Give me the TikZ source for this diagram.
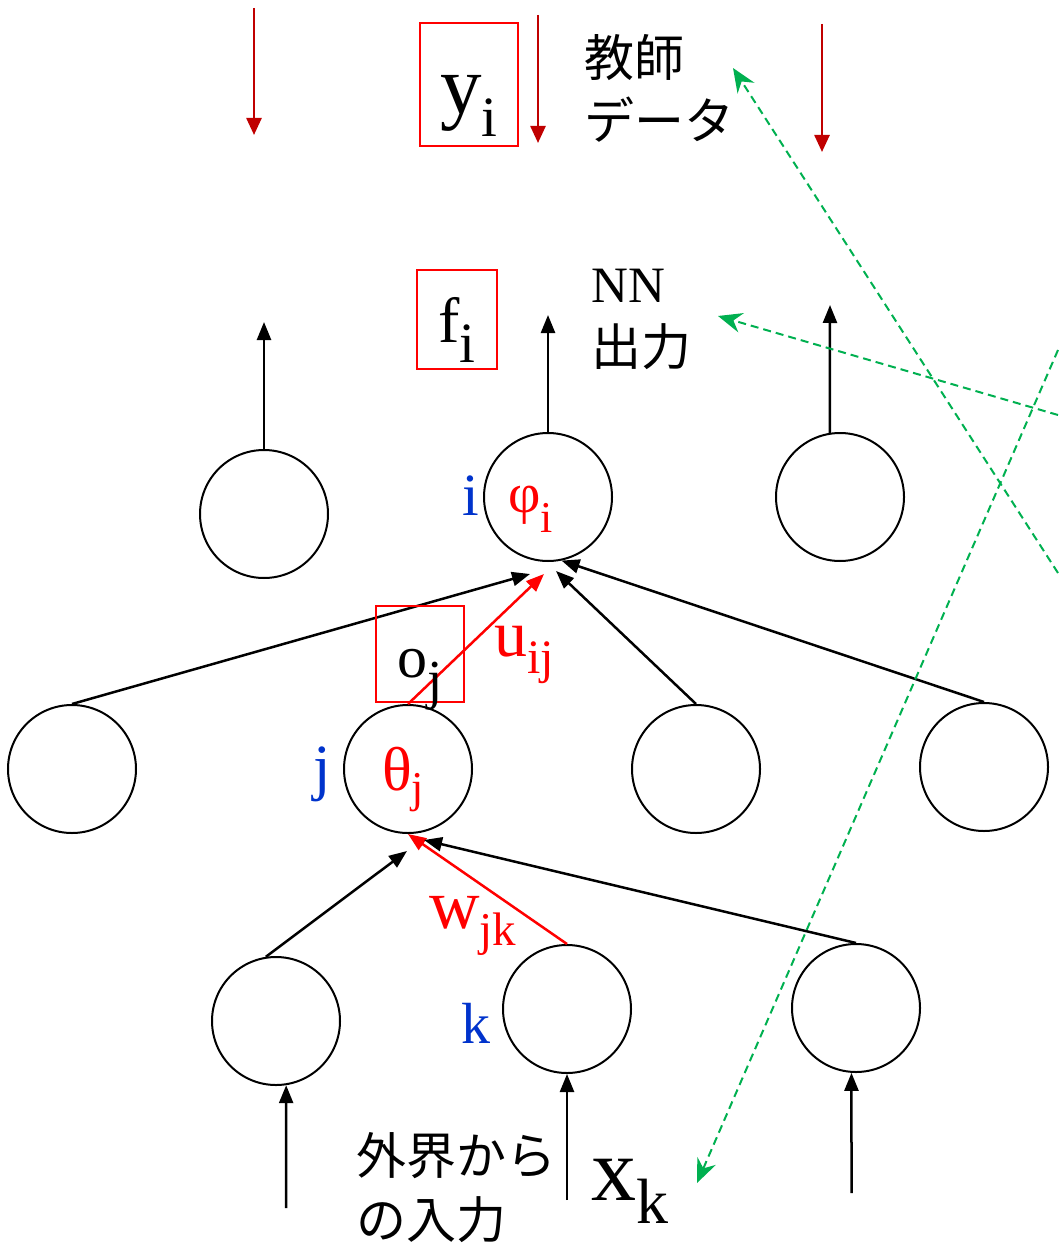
\documentclass[tikz,border=0pt]{standalone}
\usepackage{fontspec}
\setmainfont{Liberation Serif}
\newfontfamily\jpfont{Noto Sans CJK JP}
\usetikzlibrary{arrows.meta,calc}
\definecolor{darkred}{RGB}{192,0,0}
\definecolor{lblue}{RGB}{0,51,204}
\definecolor{ngreen}{RGB}{0,176,80}
\newcommand{\fs}[1]{\fontsize{#1}{#1}\selectfont}
\newcommand{\sbs}[5]{{\fs{#1}#2}\raisebox{-#5pt}{\fs{#3}#4}}
\begin{document}
\begin{tikzpicture}[x=1pt, y=-1pt, line width=2.5pt,
  neuron/.style={circle, draw, line width=2pt, minimum size=128pt, inner sep=0pt},
  arr/.style={-{Triangle[length=18pt, width=14pt]}},
  tch/.style={darkred, -{Triangle[length=17pt, width=15pt]}},
  wgt/.style={red, -{Triangle[length=18pt, width=14pt]}},
  hint/.style={ngreen, line width=2pt, dash pattern=on 8pt off 5pt, -{Stealth[length=24pt, width=20pt, inset=8pt]}},
  redbox/.style={draw=red, line width=2pt, inner sep=0pt, anchor=base},
  lbl/.style={inner sep=0pt, anchor=base west}]
  \useasboundingbox (0,0) rectangle (1058,1246);
  % ニューロン
  \node[neuron] (out1) at (264,514) {};
  \node[neuron] (i) at (548,497) {};
  \node[neuron] (out3) at (840,497) {};
  \node[neuron] (hid1) at (72,769) {};
  \node[neuron] (j) at (408,769) {};
  \node[neuron] (hid3) at (696,769) {};
  \node[neuron] (hid4) at (984,767) {};
  \node[neuron] (in1) at (276,1021) {};
  \node[neuron] (k) at (567,1009) {};
  \node[neuron] (in3) at (856,1008) {};
  % 出力・入力の矢印
  \coordinate (f1) at (264,322);
  \coordinate (f2) at (548,315);
  \coordinate (f3) at (830,305);
  \coordinate (x1) at (286,1208);
  \coordinate (x2) at (567,1200);
  \coordinate (x3) at (851.5,1193);
  \draw[arr] (out1.north) -- (f1);
  \draw[arr] (i.north) -- (f2);
  \draw[arr] (out3.99) -- (f3);
  \draw[arr] (x1) -- (in1.-81);
  \draw[arr] (x2) -- (k.south);
  \draw[arr] (x3) -- (in3.-94);
  % 教師データ
  \foreach \n/\x/\a/\b in {1/254/8/135, 2/538/15/143, 3/822/24/152} {
    \coordinate (ta\n) at (\x,\a);
    \coordinate (tb\n) at (\x,\b);
    \draw[tch] (ta\n) -- (tb\n);
  }
  % 結合
  \draw[arr] (hid1.north) -- ($(i.south)+(-18,12)$);
  \draw[wgt] (j.north) -- ($(i.south)+(-4,12)$);
  \draw[arr] (hid3.north) -- ($(i.south)+(8,9)$);
  \draw[arr] (hid4.north) -- (i.282);
  \draw[arr] (in1.99) -- ($(j.south)+(-1,17)$);
  \draw[wgt] (k.north) -- (j.south);
  \draw[arr] (in3.north) -- ($(j.south)+(16,6)$);
  % ラベル
  \node[redbox, minimum width=98pt, text height=91pt, text depth=32pt] (yi) at (469,114) {\sbs{83}{y}{57}{i}{23}};
  \node[redbox, minimum width=80pt, text height=72pt, text depth=27pt] (fi) at (457,342) {\sbs{64}{f}{57}{i}{20}};
  \node[redbox, minimum width=88pt, text height=71pt, text depth=25pt] (oj) at (420,677) {\sbs{60}{o}{55}{j}{21}};
  \node[lbl, lblue] (il) at (461,515) {\fs{60}i};
  \node[lbl, red] (phi) at (507,512) {\sbs{56}{φ}{44}{i}{20}};
  \node[lbl, lblue] (jl) at (312,788) {\fs{63}j};
  \node[lbl, red] (theta) at (381,790) {\sbs{62}{θ}{44}{j}{12}};
  \node[lbl, lblue] (kl) at (460,1043) {\fs{58}k};
  \node[lbl, red] (uij) at (493,656) {\sbs{66}{u}{48}{ij}{17}};
  \node[lbl, red] (wjk) at (428,928) {\sbs{70}{w}{47}{jk}{17}};
  \node[lbl] (xk) at (590,1200) {\sbs{90}{x}{64}{k}{23}};
  \node[inner sep=0pt, anchor=north west, align=left, font=\jpfont\fontsize{50}{63}\selectfont] (teach) at (583,33) {教師\\データ};
  \node[inner sep=0pt, anchor=north west, align=left, font=\fontsize{51}{63}\selectfont] (nnout) at (590,268) {NN\\{\jpfont\fs{50}出力}};
  \node[inner sep=0pt, anchor=north west, align=left, font=\jpfont\fontsize{50}{64}\selectfont] (outer) at (355,1131) {外界から\\の入力};
  % 説明の矢印
  \coordinate (g1) at (1058,350);
  \coordinate (g2) at (1058,573);
  \coordinate (g3) at (1058,415);
  \coordinate (h1) at (697,1183);
  \coordinate (h2) at (733,68);
  \coordinate (h3) at (718,316);
  \draw[hint] (g1) -- (h1);
  \draw[hint] (g2) -- (h2);
  \draw[hint] (g3) -- (h3);
\end{tikzpicture}
\end{document}
